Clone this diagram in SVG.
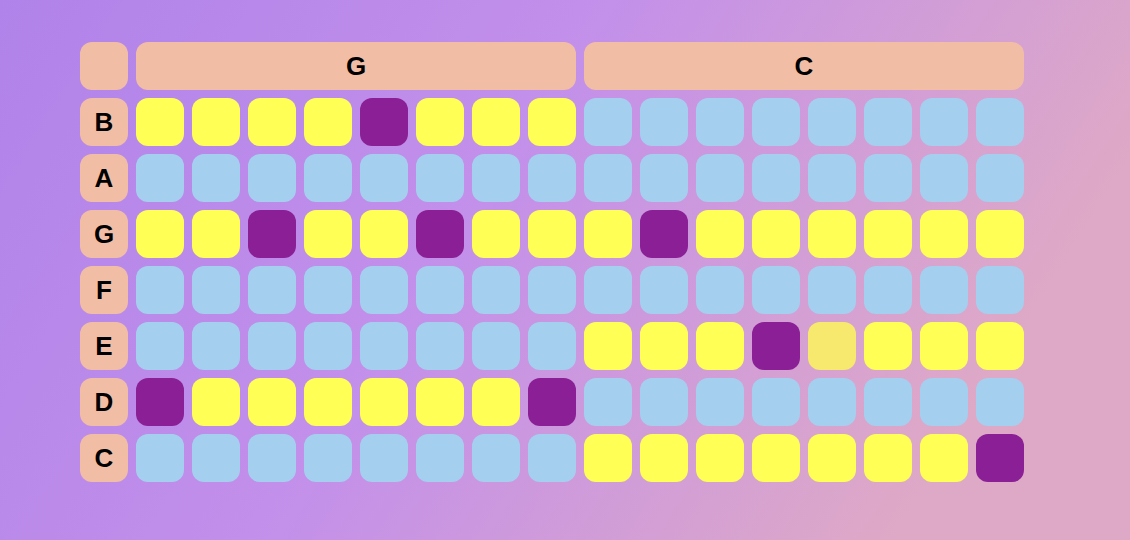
<svg xmlns="http://www.w3.org/2000/svg" width="1130" height="540" viewBox="0 0 1130 540">
<defs>
<linearGradient id="bg" x1="0" y1="0" x2="1" y2="0.3">
<stop offset="0" stop-color="#b083ea"/>
<stop offset="0.5" stop-color="#c390ea"/>
<stop offset="1" stop-color="#dea9c6"/>
</linearGradient>
</defs>
<style>
rect.c{rx:12px;ry:12px}
.h{fill:#f2bda5}
.y{fill:#ffff55}
.b{fill:#a5cfee}
.p{fill:#8b1f96}
.l{fill:#f7e86e}
text{font-family:"Liberation Sans",Arial,sans-serif;font-weight:bold;font-size:26px;fill:#000;text-anchor:middle;dominant-baseline:central}
</style>
<rect width="1130" height="540" fill="url(#bg)"/>
<g id="header">
<rect class="c h" x="80" y="42" width="48" height="48"/>
<rect class="c h" x="136" y="42" width="440" height="48"/>
<text x="356" y="66">G</text>
<rect class="c h" x="584" y="42" width="440" height="48"/>
<text x="804" y="66">C</text>
</g>
<g id="row-B" transform="translate(0,98)">
<rect class="c h" x="80" width="48" height="48"/><text x="104" y="24">B</text>
<rect class="c y" x="136" width="48" height="48"/><rect class="c y" x="192" width="48" height="48"/><rect class="c y" x="248" width="48" height="48"/><rect class="c y" x="304" width="48" height="48"/><rect class="c p" x="360" width="48" height="48"/><rect class="c y" x="416" width="48" height="48"/><rect class="c y" x="472" width="48" height="48"/><rect class="c y" x="528" width="48" height="48"/>
<rect class="c b" x="584" width="48" height="48"/><rect class="c b" x="640" width="48" height="48"/><rect class="c b" x="696" width="48" height="48"/><rect class="c b" x="752" width="48" height="48"/><rect class="c b" x="808" width="48" height="48"/><rect class="c b" x="864" width="48" height="48"/><rect class="c b" x="920" width="48" height="48"/><rect class="c b" x="976" width="48" height="48"/>
</g>
<g id="row-A" transform="translate(0,154)">
<rect class="c h" x="80" width="48" height="48"/><text x="104" y="24">A</text>
<rect class="c b" x="136" width="48" height="48"/><rect class="c b" x="192" width="48" height="48"/><rect class="c b" x="248" width="48" height="48"/><rect class="c b" x="304" width="48" height="48"/><rect class="c b" x="360" width="48" height="48"/><rect class="c b" x="416" width="48" height="48"/><rect class="c b" x="472" width="48" height="48"/><rect class="c b" x="528" width="48" height="48"/>
<rect class="c b" x="584" width="48" height="48"/><rect class="c b" x="640" width="48" height="48"/><rect class="c b" x="696" width="48" height="48"/><rect class="c b" x="752" width="48" height="48"/><rect class="c b" x="808" width="48" height="48"/><rect class="c b" x="864" width="48" height="48"/><rect class="c b" x="920" width="48" height="48"/><rect class="c b" x="976" width="48" height="48"/>
</g>
<g id="row-G" transform="translate(0,210)">
<rect class="c h" x="80" width="48" height="48"/><text x="104" y="24">G</text>
<rect class="c y" x="136" width="48" height="48"/><rect class="c y" x="192" width="48" height="48"/><rect class="c p" x="248" width="48" height="48"/><rect class="c y" x="304" width="48" height="48"/><rect class="c y" x="360" width="48" height="48"/><rect class="c p" x="416" width="48" height="48"/><rect class="c y" x="472" width="48" height="48"/><rect class="c y" x="528" width="48" height="48"/>
<rect class="c y" x="584" width="48" height="48"/><rect class="c p" x="640" width="48" height="48"/><rect class="c y" x="696" width="48" height="48"/><rect class="c y" x="752" width="48" height="48"/><rect class="c y" x="808" width="48" height="48"/><rect class="c y" x="864" width="48" height="48"/><rect class="c y" x="920" width="48" height="48"/><rect class="c y" x="976" width="48" height="48"/>
</g>
<g id="row-F" transform="translate(0,266)">
<rect class="c h" x="80" width="48" height="48"/><text x="104" y="24">F</text>
<rect class="c b" x="136" width="48" height="48"/><rect class="c b" x="192" width="48" height="48"/><rect class="c b" x="248" width="48" height="48"/><rect class="c b" x="304" width="48" height="48"/><rect class="c b" x="360" width="48" height="48"/><rect class="c b" x="416" width="48" height="48"/><rect class="c b" x="472" width="48" height="48"/><rect class="c b" x="528" width="48" height="48"/>
<rect class="c b" x="584" width="48" height="48"/><rect class="c b" x="640" width="48" height="48"/><rect class="c b" x="696" width="48" height="48"/><rect class="c b" x="752" width="48" height="48"/><rect class="c b" x="808" width="48" height="48"/><rect class="c b" x="864" width="48" height="48"/><rect class="c b" x="920" width="48" height="48"/><rect class="c b" x="976" width="48" height="48"/>
</g>
<g id="row-E" transform="translate(0,322)">
<rect class="c h" x="80" width="48" height="48"/><text x="104" y="24">E</text>
<rect class="c b" x="136" width="48" height="48"/><rect class="c b" x="192" width="48" height="48"/><rect class="c b" x="248" width="48" height="48"/><rect class="c b" x="304" width="48" height="48"/><rect class="c b" x="360" width="48" height="48"/><rect class="c b" x="416" width="48" height="48"/><rect class="c b" x="472" width="48" height="48"/><rect class="c b" x="528" width="48" height="48"/>
<rect class="c y" x="584" width="48" height="48"/><rect class="c y" x="640" width="48" height="48"/><rect class="c y" x="696" width="48" height="48"/><rect class="c p" x="752" width="48" height="48"/><rect class="c l" x="808" width="48" height="48"/><rect class="c y" x="864" width="48" height="48"/><rect class="c y" x="920" width="48" height="48"/><rect class="c y" x="976" width="48" height="48"/>
</g>
<g id="row-D" transform="translate(0,378)">
<rect class="c h" x="80" width="48" height="48"/><text x="104" y="24">D</text>
<rect class="c p" x="136" width="48" height="48"/><rect class="c y" x="192" width="48" height="48"/><rect class="c y" x="248" width="48" height="48"/><rect class="c y" x="304" width="48" height="48"/><rect class="c y" x="360" width="48" height="48"/><rect class="c y" x="416" width="48" height="48"/><rect class="c y" x="472" width="48" height="48"/><rect class="c p" x="528" width="48" height="48"/>
<rect class="c b" x="584" width="48" height="48"/><rect class="c b" x="640" width="48" height="48"/><rect class="c b" x="696" width="48" height="48"/><rect class="c b" x="752" width="48" height="48"/><rect class="c b" x="808" width="48" height="48"/><rect class="c b" x="864" width="48" height="48"/><rect class="c b" x="920" width="48" height="48"/><rect class="c b" x="976" width="48" height="48"/>
</g>
<g id="row-C" transform="translate(0,434)">
<rect class="c h" x="80" width="48" height="48"/><text x="104" y="24">C</text>
<rect class="c b" x="136" width="48" height="48"/><rect class="c b" x="192" width="48" height="48"/><rect class="c b" x="248" width="48" height="48"/><rect class="c b" x="304" width="48" height="48"/><rect class="c b" x="360" width="48" height="48"/><rect class="c b" x="416" width="48" height="48"/><rect class="c b" x="472" width="48" height="48"/><rect class="c b" x="528" width="48" height="48"/>
<rect class="c y" x="584" width="48" height="48"/><rect class="c y" x="640" width="48" height="48"/><rect class="c y" x="696" width="48" height="48"/><rect class="c y" x="752" width="48" height="48"/><rect class="c y" x="808" width="48" height="48"/><rect class="c y" x="864" width="48" height="48"/><rect class="c y" x="920" width="48" height="48"/><rect class="c p" x="976" width="48" height="48"/>
</g>
<g id="connectors"/>
</svg>
